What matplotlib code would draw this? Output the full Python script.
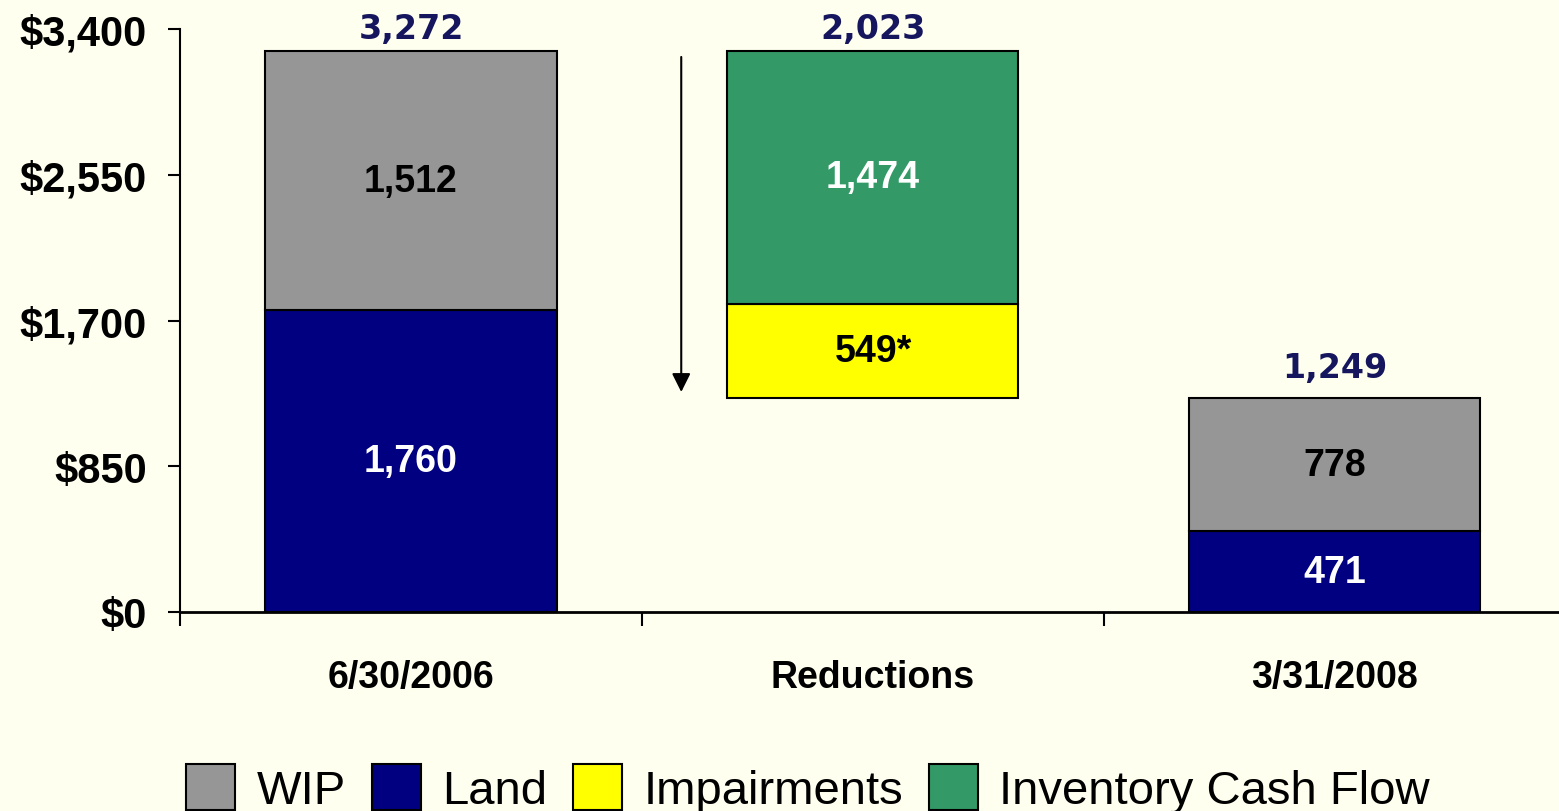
import numpy as np
import matplotlib.pyplot as plt
from matplotlib.patches import Patch

# data
categories = ['6/30/2006', 'Reductions', '3/31/2008']
land = [1760, 471]          # 6/30/2006, 3/31/2008
wip = [1512, 778]
impairments = 549
cash_flow = 1474
y_ticks = [0, 850, 1700, 2550, 3400]

bg = '#FFFFF0'
c_wip = '#969696'
c_land = '#000080'
c_imp = '#FFFF00'
c_icf = '#339966'
c_total = '#16165E'

start_total = land[0] + wip[0]
end_total = land[1] + wip[1]

fig = plt.figure(figsize=(15.59, 8.12), dpi=100, facecolor=bg)
ax = fig.add_axes([180 / 1559, 1 - 613 / 812, 1 - 180 / 1559, (613 - 30) / 812])
ax.set_facecolor(bg)

w = 0.63
ek = dict(edgecolor='black', linewidth=1.5)
x_end = [0, 2]
ax.bar(x_end, land, w, color=c_land, **ek, zorder=2)
ax.bar(x_end, wip, w, bottom=land, color=c_wip, **ek, zorder=2)
ax.bar(1, impairments, w, bottom=end_total, color=c_imp, **ek, zorder=2)
ax.bar(1, cash_flow, w, bottom=end_total + impairments, color=c_icf, **ek, zorder=2)

lab = dict(ha='center', va='center', fontsize=27, fontweight='bold',
           family=['Liberation Sans', 'DejaVu Sans'])
for i, xi in enumerate(x_end):
    ax.text(xi, land[i] / 2, f'{land[i]:,}', color='white', **lab)
    ax.text(xi, land[i] + wip[i] / 2, f'{wip[i]:,}', color='black', **lab)
ax.text(1, end_total + impairments / 2, f'{impairments:,}*', color='black', **lab)
ax.text(1, end_total + impairments + cash_flow / 2, f'{cash_flow:,}', color='white', **lab)

# totals above bars
totals = [start_total, impairments + cash_flow, end_total]
tops = [start_total, start_total, end_total]
offs = [9, 9, 15]
for i, t in enumerate(totals):
    ax.annotate(f'{t:,}', (i, tops[i]), xytext=(0, offs[i]), textcoords='offset points',
                ha='center', va='baseline', fontsize=24, fontweight='bold',
                color=c_total, family='DejaVu Sans', annotation_clip=False)

# downward arrow
ax_x = 1 - w / 2 - 0.1
ax.annotate('', xy=(ax_x, end_total + 34), xytext=(ax_x, start_total - 35),
            arrowprops=dict(arrowstyle='-|>', color='black', lw=1.5,
                            mutation_scale=28, shrinkA=0, shrinkB=0))

ax.set_xlim(-0.5, 2.485)
ax.set_ylim(0, 3400)
ax.spines['top'].set_visible(False)
ax.spines['right'].set_visible(False)
ax.spines['left'].set_linewidth(1.5)
ax.spines['bottom'].set_linewidth(2)

ax.set_yticks(y_ticks)
ax.set_yticklabels([f'${v:,}' for v in y_ticks], fontsize=30, fontweight='bold',
                   family=['Liberation Sans', 'DejaVu Sans'])
ax.tick_params(axis='y', length=9, width=1.5, pad=15)

ax.set_xticks(range(len(categories)))
ax.set_xticklabels(categories, fontsize=27, fontweight='bold',
                   family=['Liberation Sans', 'DejaVu Sans'])
ax.set_xticks([-0.5, 0.5, 1.5], minor=True)
ax.tick_params(axis='x', which='major', length=0, pad=34)
ax.tick_params(axis='x', which='minor', length=10, width=1.5)

handles = [Patch(facecolor=c, edgecolor='black', linewidth=1.5, label=l)
           for c, l in zip([c_wip, c_land, c_imp, c_icf],
                           ['WIP', 'Land', 'Impairments', 'Inventory Cash Flow'])]
fig.legend(handles=handles, loc='lower center', bbox_to_anchor=(808 / 1559, -0.037),
           ncol=4, frameon=False, prop=dict(family=['Liberation Sans', 'DejaVu Sans'], size=34),
           handlelength=1.04, handleheight=1.12, handletextpad=0.45, columnspacing=0.55,
           borderpad=0.1)

fig.savefig('out.png', dpi=100, facecolor=bg)
